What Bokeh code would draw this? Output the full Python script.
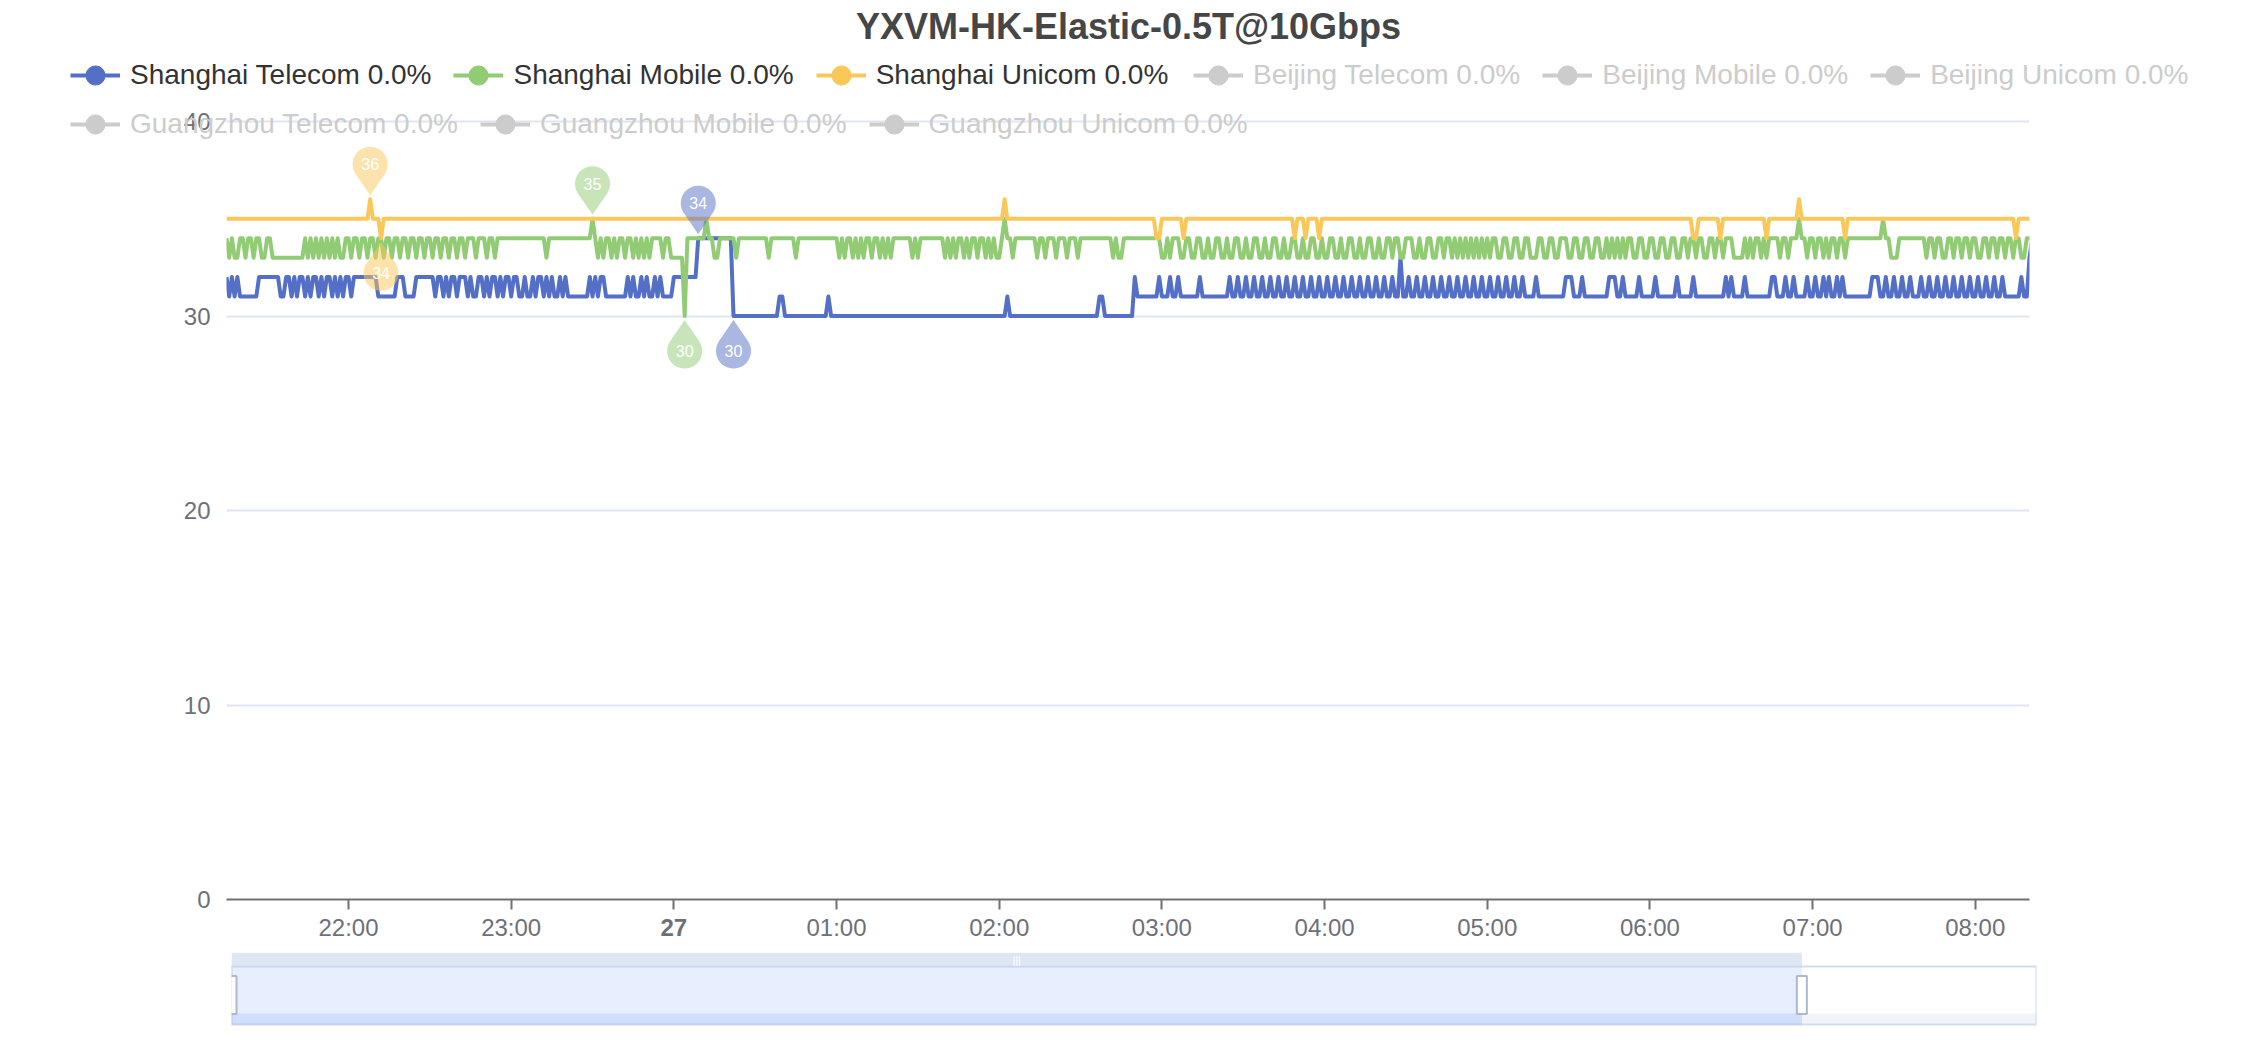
from datetime import datetime, timedelta
import numpy as np
from bokeh.plotting import figure
from bokeh.models import Range1d, FixedTicker, Label, Legend, LegendItem, GridBox
from bokeh.embed import file_html
from bokeh.resources import INLINE
from bokeh.core.properties import value

# ---------------- data ----------------
TITLE = "YXVM-HK-Elastic-0.5T@10Gbps"
series_names = ["Shanghai Telecom", "Shanghai Mobile", "Shanghai Unicom",
                "Beijing Telecom", "Beijing Mobile", "Beijing Unicom",
                "Guangzhou Telecom", "Guangzhou Mobile", "Guangzhou Unicom"]
loss_pct = [0.0, 0.0, 0.0, 0.0, 0.0, 0.0, 0.0, 0.0, 0.0]
series_shown = [True, True, True, False, False, False, False, False, False]

start_time = datetime(2024, 10, 26, 21, 15)   # first sample
window_minutes = 665                          # visible span (to 08:20)
n_samples = 667                               # one sample per minute
zoom_end_pct = 87                             # dataZoom window end (%)

hour_ticks = ["22:00", "23:00", "27", "01:00", "02:00", "03:00",
              "04:00", "05:00", "06:00", "07:00", "08:00"]
y_ticks = [0, 10, 20, 30, 40]

# latency (ms) series as (minute offset, new value) change points
shanghai_telecom = [(0,32),(1,31),(2,32),(3,31),(4,32),(5,31),(12,32),(20,31),(22,32),(24,31),(25,32),(26,31),(27,32),(29,31),(30,32),(31,31),(32,32),(34,31),(35,32),(36,31),(37,32),(39,31),(40,32),(41,31),(42,32),(43,31),(44,32),(46,31),(47,32),(56,31),(63,32),(66,31),(70,32),(77,31),(78,32),(80,31),(81,32),(82,31),(83,32),(85,31),(86,32),(89,31),(90,32),(91,31),(93,32),(95,31),(96,32),(97,31),(98,32),(100,31),(101,32),(102,31),(103,32),(105,31),(106,32),(108,31),(110,32),(111,31),(113,32),(114,31),(115,32),(117,31),(118,32),(119,31),(120,32),(121,31),(123,32),(124,31),(125,32),(126,31),(134,32),(135,31),(136,32),(137,31),(138,32),(140,31),(148,32),(149,31),(150,32),(151,31),(153,32),(154,31),(155,32),(156,31),(158,32),(159,31),(160,32),(161,31),(165,32),(174,34),(187,30),(204,31),(206,30),(222,31),(223,30),(288,31),(289,30),(322,31),(324,30),(335,32),(336,31),(344,32),(345,31),(348,32),(349,31),(351,32),(352,31),(359,32),(360,31),(370,32),(371,31),(373,32),(374,31),(376,32),(377,31),(379,32),(380,31),(382,32),(383,31),(385,32),(386,31),(388,32),(389,31),(391,32),(392,31),(394,32),(395,31),(397,32),(398,31),(400,32),(401,31),(403,32),(404,31),(406,32),(407,31),(409,32),(410,31),(412,32),(413,31),(415,32),(416,31),(418,32),(419,31),(421,32),(422,31),(424,32),(425,31),(427,32),(428,31),(430,32),(431,31),(433,33),(434,31),(436,32),(437,31),(439,32),(440,31),(442,32),(443,31),(445,32),(446,31),(448,32),(449,31),(451,32),(452,31),(454,32),(455,31),(457,32),(458,31),(460,32),(461,31),(463,32),(464,31),(466,32),(467,31),(469,32),(470,31),(472,32),(473,31),(475,32),(476,31),(478,32),(479,31),(483,32),(484,31),(494,32),(497,31),(500,32),(501,31),(510,32),(513,31),(515,32),(516,31),(521,32),(522,31),(527,32),(528,31),(535,32),(536,31),(541,32),(542,31),(553,32),(554,31),(555,32),(556,31),(560,32),(561,31),(570,32),(572,31),(575,32),(576,31),(578,32),(579,31),(583,32),(584,31),(586,32),(587,31),(589,32),(590,31),(591,32),(592,31),(594,32),(595,31),(596,32),(597,31),(607,32),(610,31),(612,32),(613,31),(615,32),(616,31),(618,32),(619,31),(621,32),(622,31),(625,32),(626,31),(628,32),(629,31),(631,32),(632,31),(634,32),(635,31),(637,32),(638,31),(640,32),(641,31),(643,32),(644,31),(646,32),(647,31),(649,32),(650,31),(652,32),(653,31),(655,32),(656,31),(662,32),(663,31),(665,33),(666,34)]

shanghai_mobile = [(0,34),(1,33),(2,34),(3,33),(5,34),(7,33),(8,34),(10,33),(11,34),(13,33),(15,34),(17,33),(29,34),(30,33),(31,34),(32,33),(33,34),(34,33),(35,34),(36,33),(37,34),(38,33),(39,34),(40,33),(41,34),(42,33),(44,34),(46,33),(47,34),(49,33),(50,34),(52,33),(53,34),(55,33),(56,34),(58,33),(59,34),(61,33),(62,34),(64,33),(65,34),(67,33),(68,34),(70,33),(71,34),(73,33),(74,34),(76,33),(77,34),(79,33),(80,34),(82,33),(83,34),(85,33),(86,34),(88,33),(89,34),(92,33),(93,34),(96,33),(97,34),(99,33),(100,34),(118,33),(119,34),(135,35),(136,34),(137,33),(138,34),(139,33),(140,34),(142,33),(143,34),(144,33),(145,34),(147,33),(148,34),(150,33),(151,34),(152,33),(153,34),(154,33),(155,34),(156,33),(157,34),(161,33),(162,34),(164,33),(169,30),(170,34),(177,35),(178,34),(180,33),(182,34),(188,33),(189,34),(200,33),(201,34),(210,33),(211,34),(226,33),(227,34),(228,33),(229,34),(231,33),(232,34),(233,33),(234,34),(235,33),(236,34),(238,33),(239,34),(241,33),(242,34),(243,33),(244,34),(245,33),(246,34),(253,33),(254,34),(255,33),(256,34),(265,33),(266,34),(267,33),(268,34),(269,33),(270,34),(272,33),(273,34),(274,33),(275,34),(277,33),(278,34),(280,33),(281,34),(282,33),(283,34),(284,33),(286,34),(287,35),(288,34),(290,33),(291,34),(299,33),(300,34),(302,33),(303,34),(306,33),(307,34),(310,33),(311,34),(314,33),(315,34),(327,33),(328,34),(329,33),(331,34),(345,33),(347,34),(348,33),(349,34),(352,33),(354,34),(356,33),(358,34),(360,33),(362,34),(363,33),(365,34),(367,33),(369,34),(370,33),(372,34),(374,33),(376,34),(377,33),(379,34),(381,33),(383,34),(384,33),(386,34),(388,33),(390,34),(391,33),(393,34),(395,33),(397,34),(398,33),(400,34),(402,33),(404,34),(405,33),(407,34),(409,33),(411,34),(412,33),(414,34),(416,33),(418,34),(419,33),(421,34),(423,33),(425,34),(426,33),(428,34),(430,33),(431,34),(433,33),(435,34),(438,33),(440,34),(441,33),(443,34),(445,33),(447,34),(449,33),(450,34),(452,33),(453,34),(454,33),(455,34),(456,33),(457,34),(458,33),(459,34),(460,33),(461,34),(462,33),(463,34),(464,33),(465,34),(466,33),(467,34),(469,33),(471,34),(473,33),(475,34),(477,33),(479,34),(481,33),(484,34),(486,33),(488,34),(490,33),(492,34),(495,33),(497,34),(499,33),(501,34),(503,33),(505,34),(507,33),(509,34),(510,33),(511,34),(512,33),(513,34),(514,33),(515,34),(516,33),(517,34),(519,33),(521,34),(523,33),(525,34),(527,33),(529,34),(531,33),(533,34),(535,33),(537,34),(539,33),(540,34),(542,33),(543,34),(545,33),(547,34),(549,33),(550,34),(552,33),(553,34),(556,33),(560,34),(561,33),(562,34),(563,33),(564,34),(566,33),(567,34),(568,33),(569,34),(573,33),(574,34),(576,33),(577,34),(580,35),(581,34),(583,33),(584,34),(586,33),(587,34),(589,33),(590,34),(591,33),(592,34),(594,33),(595,34),(597,33),(598,34),(611,35),(612,34),(614,33),(617,34),(627,33),(628,34),(630,33),(631,34),(633,33),(635,34),(637,33),(638,34),(640,33),(641,34),(643,33),(644,34),(646,33),(648,34),(650,33),(651,34),(653,33),(654,34),(656,33),(657,34),(659,33),(660,34),(662,33),(664,34)]

shanghai_unicom = [(0,35),(53,36),(54,35),(57,34),(58,35),(287,36),(288,35),(343,34),(345,35),(353,34),(354,35),(394,34),(395,35),(398,34),(399,35),(403,34),(404,35),(541,34),(543,35),(551,34),(552,35),(568,34),(569,35),(580,36),(581,35),(597,34),(598,35),(660,34),(661,35)]

# ---------------- helpers ----------------
def expand(changes, n):
    out = np.zeros(n)
    for i, (m, v) in enumerate(changes):
        end = changes[i + 1][0] if i + 1 < len(changes) else n
        out[m:end] = v
    return out

EPOCH = datetime(1970, 1, 1)
def to_ms(dt):
    return (dt - EPOCH).total_seconds() * 1000.0

def no_frame_align(fig):
    if "frame_align" in fig.properties():
        fig.frame_align = False

times = [start_time + timedelta(minutes=i) for i in range(n_samples)]
t_ms = np.array([to_ms(t) for t in times])
series_values = [expand(s, n_samples) for s in (shanghai_telecom, shanghai_mobile, shanghai_unicom)]

COLORS = ["#5470c6", "#91cc75", "#fac858"]
INACTIVE = "#cccccc"
FONT = "Liberation Sans"
AXIS_GREY = "#6E7079"

# ---------------- layout constants (px) ----------------
W = 2256
MAIN_H = 952
TOP_PAD = 2                      # keeps the top grid line fully inside the frame
FL, FR, FT, FB = 226, 227, 121 - TOP_PAD, 53
frame_w = W - FL - FR
frame_h = MAIN_H - FT - FB

x0 = start_time
x1 = start_time + timedelta(minutes=window_minutes)
t0_ms, t1_ms = to_ms(x0), to_ms(x1)
ppm = frame_w / window_minutes                              # px per minute
ppu = (frame_h - TOP_PAD) / (y_ticks[-1] - y_ticks[0])      # px per value unit
y_top = y_ticks[-1] + TOP_PAD / ppu

p = figure(width=W, height=MAIN_H, x_axis_type="datetime",
           x_range=Range1d(x0, x1), y_range=Range1d(y_ticks[0], y_top),
           output_backend="svg", toolbar_location=None,
           min_border_left=FL, min_border_right=FR, min_border_top=FT, min_border_bottom=FB)
p.outline_line_color = None
p.background_fill_color = "white"
p.border_fill_color = "white"
no_frame_align(p)

# axes
tick_dts = [datetime(2024, 10, 26, 22, 0) + timedelta(hours=i) for i in range(len(hour_ticks))]
tick_ms = [to_ms(d) for d in tick_dts]
p.xaxis.ticker = FixedTicker(ticks=tick_ms)
p.xaxis.major_label_overrides = {tm: (lab if lab != "27" else " ") for tm, lab in zip(tick_ms, hour_ticks)}
p.xaxis.axis_line_color = AXIS_GREY
p.xaxis.axis_line_width = 2
p.xaxis.major_tick_line_color = AXIS_GREY
p.xaxis.major_tick_line_width = 2
p.xaxis.major_tick_out = 10
p.xaxis.major_tick_in = 0
p.xaxis.minor_tick_line_color = None
p.xaxis.major_label_standoff = 4
p.xaxis.major_label_text_font = FONT
p.xaxis.major_label_text_font_size = "24px"
p.xaxis.major_label_text_color = AXIS_GREY

p.yaxis.ticker = FixedTicker(ticks=y_ticks)
p.yaxis.axis_line_color = None
p.yaxis.major_tick_line_color = None
p.yaxis.minor_tick_line_color = None
p.yaxis.major_tick_out = 0
p.yaxis.major_tick_in = 0
p.yaxis.major_label_standoff = 16
p.yaxis.major_label_text_font = FONT
p.yaxis.major_label_text_font_size = "24px"
p.yaxis.major_label_text_color = AXIS_GREY

p.xgrid.grid_line_color = None
p.ygrid.grid_line_color = "#E0E6F1"
p.ygrid.grid_line_width = 2

# series lines
for vals, col in zip(series_values, COLORS):
    p.line(t_ms, vals, line_color=col, line_width=4, line_join="round")

# markPoint pins (max above, min below)
r_pin, d_pin, gap_pin = 17.5, 31.0, 4.0
beta = np.arccos(r_pin / d_pin)
angs = np.linspace(-np.pi / 2 + beta, 3 * np.pi / 2 - beta, 48)
shape_x = np.concatenate([[0.0], r_pin * np.cos(angs)])
shape_y = np.concatenate([[0.0], d_pin + r_pin * np.sin(angs)])

for vals, col in zip(series_values, COLORS):
    vis = vals[: window_minutes + 1]
    pins = [(int(np.argmax(vis)), 1), (int(np.argmin(vis)), -1)]
    xs, ys, lx, ly, lt = [], [], [], [], []
    for idx, sgn in pins:
        v = vals[idx]
        xs.append(t_ms[idx] + shape_x / ppm * 60000.0)
        ys.append(v + sgn * (gap_pin + shape_y) / ppu)
        lx.append(t_ms[idx])
        ly.append(v + sgn * (gap_pin + d_pin) / ppu)
        lt.append(str(int(v)))
    p.patches(xs, ys, fill_color=col, fill_alpha=0.5, line_color=None)
    p.text(lx, ly, text=lt, text_align="center", text_baseline="middle",
           text_font=value(FONT), text_font_size="16px", text_color="white")

# ---------------- overlay (title, legend, bold day tick) ----------------
# same scales as the main plot, but its frame spans the whole canvas
ov = figure(width=W, height=MAIN_H,
            x_range=Range1d(t0_ms - FL / ppm * 60000.0, t1_ms + FR / ppm * 60000.0),
            y_range=Range1d(y_ticks[0] - FB / ppu, y_top + FT / ppu),
            output_backend="svg", toolbar_location=None,
            min_border_left=0, min_border_right=0, min_border_top=0, min_border_bottom=0)
ov.axis.visible = False
ov.grid.visible = False
ov.outline_line_color = None
ov.background_fill_alpha = 0
ov.border_fill_alpha = 0
no_frame_align(ov)

items = []
for i, name in enumerate(series_names):
    label = f"{name} {loss_pct[i]:.1f}%"
    col = COLORS[i] if series_shown[i] else INACTIVE
    # legend-only renderers (no drawable point)
    lr = ov.line([np.nan], [np.nan], line_color=col, line_width=4)
    sr = ov.scatter([np.nan], [np.nan], fill_color=col, line_color=col)
    items.append(LegendItem(label=label, renderers=[lr, sr], index=0))

GLYPH_H = 48   # marker in the legend is drawn at 0.4 x this height

def make_legend(its, left, center_y, text_color):
    lg = Legend(items=its, location=(left, MAIN_H - center_y - GLYPH_H / 2),
                orientation="horizontal", click_policy="none",
                glyph_width=50, glyph_height=GLYPH_H, label_standoff=10, spacing=22,
                padding=0, margin=0, label_height=28,
                label_text_font=FONT, label_text_font_size="28px", label_text_color=text_color,
                border_line_color=None, background_fill_alpha=0)
    ov.add_layout(lg)

make_legend(items[0:3], 70, 75, "#333333")
make_legend(items[3:6], 1193, 75, INACTIVE)
make_legend(items[6:9], 70, 124, INACTIVE)

ov.add_layout(Label(x=W / 2, y=MAIN_H - 26, x_units="screen", y_units="screen",
                    text=TITLE, text_align="center", text_baseline="middle",
                    text_font=FONT, text_font_size="36px", text_font_style="bold",
                    text_color="#464646"))

for tm, lab in zip(tick_ms, hour_ticks):
    if lab == "27":
        ov.add_layout(Label(x=tm, y=MAIN_H - 927, x_units="data", y_units="screen", text=lab,
                            text_align="center", text_baseline="middle",
                            text_font=FONT, text_font_size="24px", text_font_style="bold",
                            text_color=AXIS_GREY))

# ---------------- dataZoom slider ----------------
SL_H = 80
s = figure(width=W, height=SL_H, x_range=Range1d(0, 100), y_range=Range1d(0, SL_H),
           output_backend="svg", toolbar_location=None,
           min_border_left=231, min_border_right=W - 2036, min_border_top=0, min_border_bottom=0)
s.axis.visible = False
s.grid.visible = False
s.outline_line_color = None
s.background_fill_color = "white"
s.border_fill_color = "white"
no_frame_align(s)

s.quad(left=[0], right=[100], bottom=[8], top=[66], fill_color="white",
       line_color="#d2dbee", line_width=2)
s.quad(left=[zoom_end_pct], right=[100], bottom=[8], top=[19], fill_color="#d2dbee",
       fill_alpha=0.3, line_color=None)
s.quad(left=[0], right=[zoom_end_pct], bottom=[8], top=[66], fill_color="#87afff",
       fill_alpha=0.2, line_color=None)
s.quad(left=[0], right=[zoom_end_pct], bottom=[8], top=[19], fill_color="#8fb0f7",
       fill_alpha=0.25, line_color=None)
s.quad(left=[0], right=[zoom_end_pct], bottom=[66], top=[80], fill_color="#d2dbee",
       fill_alpha=0.7, line_color=None)
s.rect(x=[0, zoom_end_pct], y=[37.5, 37.5], width=10, height=38,
       width_units="screen", height_units="screen", fill_color="white",
       line_color="#acb8d1", line_width=2)
s.text(x=[zoom_end_pct / 2], y=[73], text=["|||"], text_align="center", text_baseline="middle",
       text_font=value(FONT), text_font_size="11px", text_color="white")

layout = GridBox(children=[(p, 0, 0), (ov, 0, 0), (s, 1, 0)], spacing=0)
open("out.html", "w").write(file_html(layout, INLINE))
